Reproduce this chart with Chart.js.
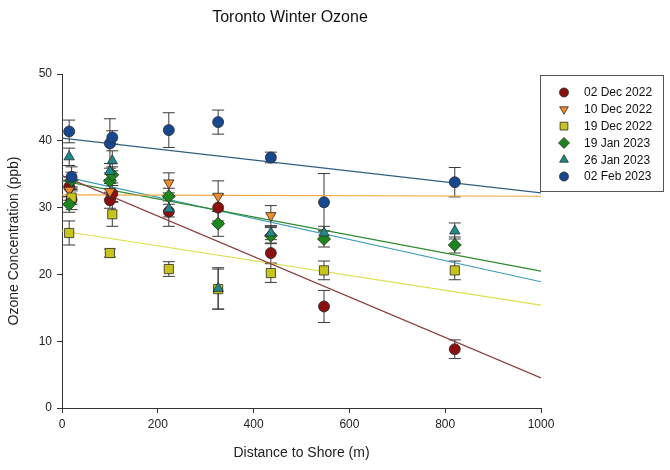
<!DOCTYPE html>
<html>
<head>
<meta charset="utf-8">
<script src="https://cdn.jsdelivr.net/npm/chart.js@4"></script>
<style>
  html, body { margin: 0; padding: 0; background: #fff; }
  #wrap { width: 670px; height: 470px; }
</style>
</head>
<body>
<div id="wrap"><canvas id="ozoneChart" width="670" height="470"></canvas></div>
<script>
// sampling sites, distance to shore (m)
const dist = [15, 20, 100, 105, 223, 326, 436, 547, 820];

const seriesNames = ["02 Dec 2022", "10 Dec 2022", "19 Dec 2022", "19 Jan 2023", "26 Jan 2023", "02 Feb 2023"];

// ozone (ppb) per site, null = no sample
const dec02 = [33.1, 31.2, 31.1, 32.1, 29.4, 30.0, 23.2, 15.2, 8.8];
const dec10 = [32.6, null, 32.4, null, 33.7, 31.7, 28.8, null, null];
const dec19 = [26.2, 31.5, 23.2, 29.0, 20.8, 17.8, 20.2, 20.6, 20.6];
const jan19 = [30.5, 34.1, 34.0, 34.9, 31.7, 27.6, 25.8, 25.3, 24.4];
const jan26 = [37.6, null, 35.4, 37.0, 29.8, 17.9, 26.2, 26.2, 26.5];
const feb02 = [41.4, 34.6, 39.6, 40.5, 41.6, 42.8, 37.5, 30.8, 33.8];

// error bar half-widths (ppb)
const dec02Err = [1.5, 1.5, 1.2, 1.2, 2.2, 2.0, 1.5, 2.4, 1.4];
const dec10Err = [1.5, null, 1.2, null, 1.5, 2.3, 1.5, null, null];
const dec19Err = [1.8, 1.0, 0.6, 1.8, 1.1, 3.0, 1.4, 1.4, 1.4];
const jan19Err = [1.2, 1.2, 1.2, 1.2, 1.2, 1.9, 1.2, 1.2, 1.2];
const jan26Err = [1.3, null, 1.2, 1.5, 1.2, 3.1, 1.0, 1.0, 1.2];
const feb02Err = [1.7, 1.5, 3.7, 1.0, 2.6, 1.8, 0.8, 4.3, 2.2];

// fitted lines, value at 0 m and at 1000 m
const fitX = [0, 1000];
const dec02Fit = [34.8, 4.5];
const dec10Fit = [31.9, 31.7];
const dec19Fit = [26.5, 15.4];
const jan19Fit = [34.0, 20.5];
const jan26Fit = [34.7, 18.9];
const feb02Fit = [40.4, 32.2];

const xTicks = [0, 200, 400, 600, 800, 1000];
const yTicks = [0, 10, 20, 30, 40, 50];

const values = [dec02, dec10, dec19, jan19, jan26, feb02];
const errors = [dec02Err, dec10Err, dec19Err, jan19Err, jan26Err, feb02Err];
const fits = [dec02Fit, dec10Fit, dec19Fit, jan19Fit, jan26Fit, feb02Fit];

const markFill = ["#8a0f0f", "#f08a2a", "#c9c41c", "#1c861c", "#1f8a8c", "#17488f"];
const lineCol = ["#8a3a3a", "#f0a840", "#dede4a", "#2e8a2e", "#3a9ab4", "#2e5f80"];
const pStyle = ["circle", "triangle", "rect", "rectRot", "triangle", "circle"];
const pRot = [0, 180, 0, 0, 0, 0];
const pRad = [5.5, 6, 6.5, 6.5, 6, 5.5];

const toPts = (arr) => dist.map((d, i) => ({ x: d, y: arr[i] })).filter((p) => p.y !== null);

const datasets = [];
values.forEach((arr, k) => {
  datasets.push({
    type: "scatter",
    label: seriesNames[k],
    data: toPts(arr),
    pointStyle: pStyle[k],
    rotation: pRot[k],
    pointRadius: pRad[k],
    pointHoverRadius: pRad[k],
    backgroundColor: markFill[k],
    borderColor: "#2a2a2a",
    borderWidth: 0.8,
    order: 6 - k,
  });
});
fits.forEach((f, k) => {
  datasets.push({
    type: "line",
    label: seriesNames[k] + " fit",
    data: fitX.map((x, i) => ({ x: x, y: f[i] })),
    borderColor: lineCol[k],
    borderWidth: 1.2,
    pointRadius: 0,
    fill: false,
    order: 20,
  });
});

const errorBars = {
  id: "errorBars",
  beforeDatasetsDraw(chart) {
    const { ctx, scales } = chart;
    ctx.save();
    ctx.strokeStyle = "#3a3a3a";
    ctx.lineWidth = 1;
    values.forEach((arr, k) => {
      arr.forEach((v, i) => {
        if (v === null || errors[k][i] === null) return;
        const x = scales.x.getPixelForValue(dist[i]);
        const y1 = scales.y.getPixelForValue(v + errors[k][i]);
        const y2 = scales.y.getPixelForValue(v - errors[k][i]);
        ctx.beginPath();
        ctx.moveTo(x, y1); ctx.lineTo(x, y2);
        ctx.moveTo(x - 6, y1); ctx.lineTo(x + 6, y1);
        ctx.moveTo(x - 6, y2); ctx.lineTo(x + 6, y2);
        ctx.stroke();
      });
    });
    ctx.restore();
  },
};

// boxed legend in the top right, drawn by hand
const boxLegend = {
  id: "boxLegend",
  afterDraw(chart) {
    const ctx = chart.ctx;
    ctx.save();
    ctx.fillStyle = "#fff";
    ctx.fillRect(540, 75, 123, 116);
    ctx.strokeStyle = "#555";
    ctx.lineWidth = 1;
    ctx.strokeRect(540.5, 75.5, 123, 116);
    ctx.font = "12px 'Liberation Sans', Arial, sans-serif";
    ctx.textBaseline = "middle";
    seriesNames.forEach((name, k) => {
      const y = 92.5 + k * 16.8;
      ctx.fillStyle = markFill[k];
      ctx.strokeStyle = "#2a2a2a";
      ctx.lineWidth = 0.8;
      Chart.helpers.drawPoint(ctx, {
        pointStyle: pStyle[k],
        rotation: pRot[k],
        radius: pRad[k] - 1,
        borderWidth: 0.8,
      }, 564, y);
      ctx.fillStyle = "#111";
      ctx.fillText(name, 584, y + 0.5);
    });
    ctx.restore();
  },
};

const chartTitle = {
  id: "chartTitle",
  afterDraw(chart) {
    const ctx = chart.ctx;
    ctx.save();
    ctx.font = "16px 'Liberation Sans', Arial, sans-serif";
    ctx.fillStyle = "#111";
    ctx.textAlign = "center";
    ctx.textBaseline = "middle";
    ctx.fillText("Toronto Winter Ozone", 290, 18);
    ctx.restore();
  },
};

Chart.defaults.font.family = "'Liberation Sans', Arial, sans-serif";
Chart.defaults.color = "#222";

new Chart(document.getElementById("ozoneChart").getContext("2d"), {
  type: "scatter",
  data: { datasets: datasets },
  options: {
    responsive: false,
    animation: false,
    events: [],
    layout: { padding: { top: 74, right: 129, left: 0, bottom: 0 } },
    plugins: {
      legend: { display: false },
      tooltip: { enabled: false },
      title: { display: false },
    },
    scales: {
      x: {
        type: "linear",
        min: 0,
        max: 1000,
        afterBuildTicks: (axis) => { axis.ticks = xTicks.map((v) => ({ value: v })); },
        afterFit: (axis) => { axis.height = 62; },
        grid: { drawOnChartArea: false, tickLength: 5, color: "#333" },
        border: { color: "#333", width: 1 },
        ticks: { font: { size: 12 }, padding: 4, maxRotation: 0, callback: (v) => String(v) },
        title: { display: true, text: "Distance to Shore (m)", font: { size: 14 }, padding: { top: 0, bottom: 8 } },
      },
      y: {
        type: "linear",
        min: 0,
        max: 50,
        afterBuildTicks: (axis) => { axis.ticks = yTicks.map((v) => ({ value: v })); },
        afterFit: (axis) => { axis.width = 62; },
        grid: { drawOnChartArea: false, tickLength: 5, color: "#333" },
        border: { color: "#333", width: 1 },
        ticks: { font: { size: 12 }, padding: 5, callback: (v) => String(v) },
        title: { display: true, text: "Ozone Concentration (ppb)", font: { size: 14 }, padding: { top: 6, bottom: 0 } },
      },
    },
  },
  plugins: [errorBars, boxLegend, chartTitle],
});
</script>
</body>
</html>
